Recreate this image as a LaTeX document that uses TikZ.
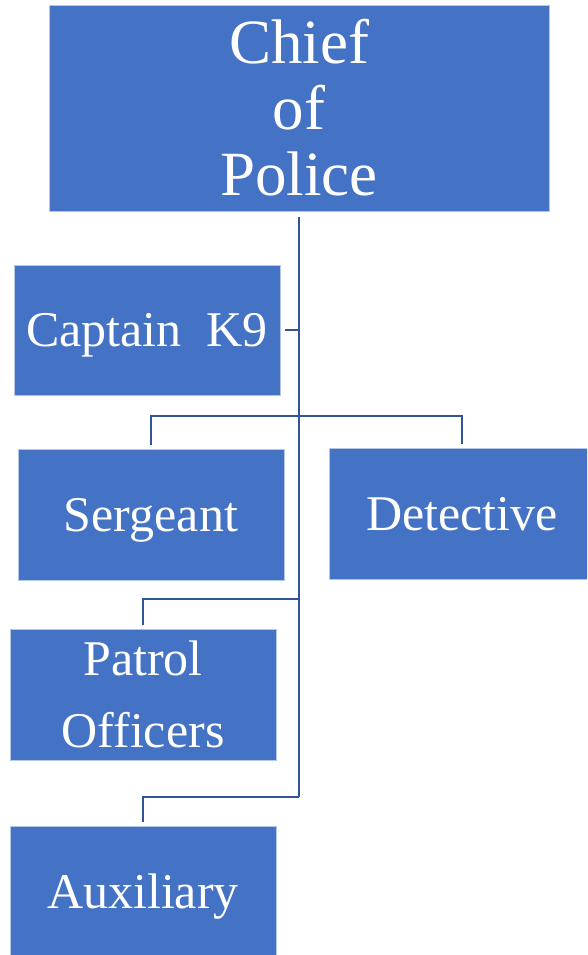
\documentclass[tikz,border=0pt]{standalone}
\usepackage{fontspec}
\setmainfont{Liberation Serif}
\usetikzlibrary{positioning, calc}
\definecolor{rankblue}{HTML}{4472C4}
\definecolor{linkblue}{HTML}{2F5597}
\definecolor{edgeblue}{HTML}{B4C7E7}

\begin{document}
\begin{tikzpicture}[x=1pt, y=-1pt,
    % Define styles
    rankbox/.style={rectangle, draw=edgeblue, line width=0.8pt, fill=rankblue, text=white, minimum width=266pt, minimum height=131pt, align=center, inner sep=0pt, font=\fontsize{50}{72}\selectfont},
    onerank/.style={rankbox, text height=43pt, text depth=10pt},
    chiefbox/.style={rankbox, minimum width=500pt, minimum height=206pt, font=\fontsize{63}{66}\selectfont},
    link/.style={draw=linkblue, line width=2.8pt}
]
    \useasboundingbox (0,0) rectangle (587,955);
    \clip (0,0) rectangle (587,955);

    % 1. The Chief
    \node[chiefbox] (chief) at (299, 108) {Chief\\of\\Police};

    % 2. The ranks below
    \node[onerank, minimum height=130pt] (captain) at (147, 330) {Captain~~K9};
    \node[onerank] (sergeant) at (151, 514.5) {Sergeant};
    \node[onerank] (detective) at (462, 513.5) {Detective};
    \node[rankbox] (patrol) at (143, 694.5) {Patrol\\Officers};
    \node[onerank] (auxiliary) at (143, 892) {Auxiliary};

    % Junctions on the trunk
    \coordinate (jSplit) at (299, 416);
    \coordinate (jPatrol) at (299, 599);
    \coordinate (jAux) at (299, 797);

    % 3. Connections
    \draw[link] ([yshift=-6pt]chief.south) -- (jAux);
    \draw[link] ([xshift=5pt]captain.east) -- (captain.east -| jAux);
    \draw[link] ([yshift=4pt]sergeant.north) |- (jSplit) -| ([yshift=4pt]detective.north);
    \draw[link] ([yshift=4pt]patrol.north) |- (jPatrol);
    \draw[link] ([yshift=4pt]auxiliary.north) |- (jAux);

\end{tikzpicture}
\end{document}
